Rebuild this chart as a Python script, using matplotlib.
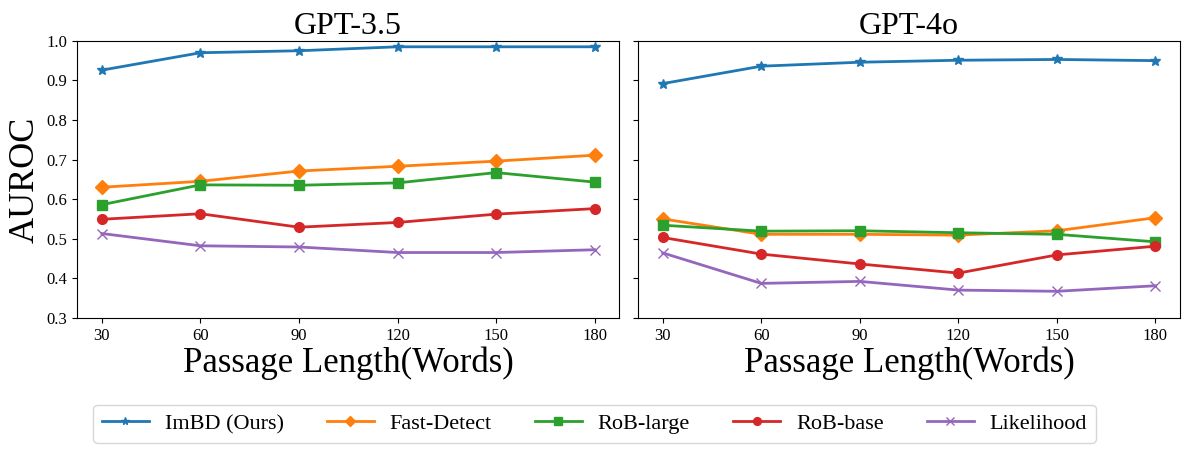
import matplotlib
matplotlib.use("Agg")
import matplotlib.pyplot as plt

plt.rcParams['font.family'] = ['Liberation Serif', 'DejaVu Serif']
plt.rcParams['mathtext.fontset'] = 'stix'

lengths = [30, 60, 90, 120, 150, 180]
methods = ["ImBD (Ours)", "Fast-Detect", "RoB-large", "RoB-base", "Likelihood"]
markers = ["*", "D", "s", "o", "x"]
colors = ["#1f77b4", "#ff7f0e", "#2ca02c", "#d62728", "#9467bd"]

gpt35_imbd = [0.926, 0.970, 0.975, 0.985, 0.985, 0.985]
gpt35_fast = [0.630, 0.645, 0.671, 0.683, 0.696, 0.711]
gpt35_rob_large = [0.586, 0.636, 0.635, 0.641, 0.667, 0.643]
gpt35_rob_base = [0.549, 0.563, 0.529, 0.541, 0.562, 0.576]
gpt35_likelihood = [0.513, 0.482, 0.479, 0.465, 0.465, 0.472]

gpt4o_imbd = [0.892, 0.936, 0.946, 0.951, 0.953, 0.950]
gpt4o_fast = [0.550, 0.511, 0.511, 0.509, 0.520, 0.553]
gpt4o_rob_large = [0.534, 0.519, 0.520, 0.515, 0.511, 0.492]
gpt4o_rob_base = [0.503, 0.461, 0.436, 0.413, 0.459, 0.481]
gpt4o_likelihood = [0.464, 0.387, 0.392, 0.370, 0.367, 0.381]

panels = [
    ("GPT-3.5", [gpt35_imbd, gpt35_fast, gpt35_rob_large, gpt35_rob_base, gpt35_likelihood]),
    ("GPT-4o", [gpt4o_imbd, gpt4o_fast, gpt4o_rob_large, gpt4o_rob_base, gpt4o_likelihood]),
]

fig, axes = plt.subplots(1, 2, figsize=(11.89, 4.54), dpi=100, sharey=True)
fig.subplots_adjust(left=0.065, right=0.9925, top=0.91, bottom=0.30, wspace=0.035)

for ax, (title, series) in zip(axes, panels):
    for name, vals, m, c in zip(methods, series, markers, colors):
        ax.plot(lengths, vals, marker=m, color=c, label=name, linewidth=2, markersize=7)
    ax.set_title(title, fontsize=23, pad=4)
    ax.set_xlabel("Passage Length(Words)", fontsize=25, labelpad=2)
    ax.set_xticks(lengths)
    ax.set_ylim(0.3, 1.0)
    ax.tick_params(labelsize=12)

axes[0].set_ylabel("AUROC", fontsize=26)
axes[0].set_yticks([0.3, 0.4, 0.5, 0.6, 0.7, 0.8, 0.9, 1.0])

handles, labels = axes[0].get_legend_handles_labels()
fig.legend(handles, labels, loc="lower center", ncol=5, fontsize=16,
           bbox_to_anchor=(0.50, 0.0), frameon=True, columnspacing=1.95,
           handlelength=2.1, handletextpad=0.72, markerscale=0.8)

fig.savefig("out.png", dpi=100)
